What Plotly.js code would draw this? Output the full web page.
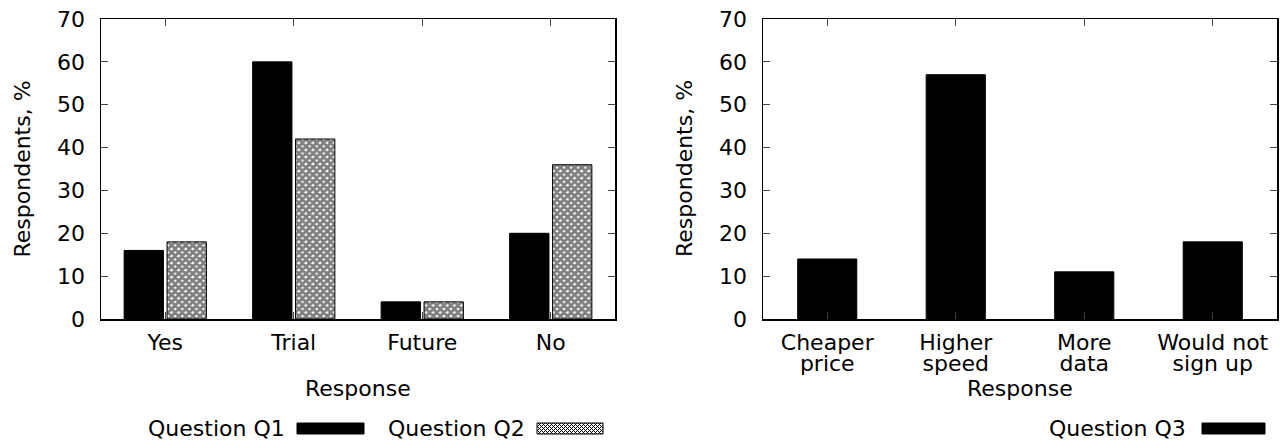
<!DOCTYPE html>
<html>
<head>
<meta charset="utf-8">
<script src="https://cdn.plot.ly/plotly-3.0.1.min.js"></script>
<style>
html,body{margin:0;padding:0;background:#fff;}
#chart{width:1280px;height:443px;}
</style>
</head>
<body>
<div id="chart"></div>
<script>
// ---- data ----
const responses1 = ['Yes', 'Trial', 'Future', 'No'];
const q1Values = [16, 60, 4, 20];
const q2Values = [18, 42, 4, 36];
const responses3 = ['Cheaper<br>price', 'Higher<br>speed', 'More<br>data', 'Would not<br>sign up'];
const q3Values = [14, 57, 11, 18];
const seriesNames = ['Question Q1', 'Question Q2', 'Question Q3'];
const yTitle = 'Respondents, %';
const xTitle = 'Response';

// ---- layout helpers ----
const W = 1280, H = 443;
const px = x => x / W;
const py = y => 1 - y / H;
const FONT = 'DejaVu Sans';
const FS = 22;

const r3Line1 = responses3.map(s => s.split('<br>')[0]);
const r3Line2 = responses3.map(s => s.split('<br>')[1]);
const idx3 = responses3.map((_, i) => i);

const traces = [
  {
    type: 'bar', x: responses1, y: q1Values, name: seriesNames[0],
    xaxis: 'x', yaxis: 'y', showlegend: false,
    marker: {color: 'black', line: {color: 'black', width: 1}}
  },
  {
    type: 'bar', x: responses1, y: q2Values, name: seriesNames[1],
    xaxis: 'x', yaxis: 'y', showlegend: false,
    marker: {color: 'white', line: {color: 'black', width: 1},
      pattern: {shape: 'x', fgcolor: 'black', bgcolor: 'white', size: 5, solidity: 0.8, fillmode: 'overlay'}}
  },
  {
    type: 'bar', x: idx3, y: q3Values, name: seriesNames[2],
    xaxis: 'x2', yaxis: 'y2', showlegend: false, width: 0.46,
    marker: {color: 'black', line: {color: 'black', width: 1}}
  },
  {
    // invisible carrier so the second-line label axis is drawn
    type: 'scatter', mode: 'markers', x: idx3, y: q3Values, name: 'labels2',
    xaxis: 'x3', yaxis: 'y2', showlegend: false, hoverinfo: 'skip',
    marker: {opacity: 0, size: 1}
  }
];

const axisCommon = {
  showline: true, mirror: 'ticks', linecolor: 'black', linewidth: 1.5,
  ticks: 'inside', ticklen: 7, tickcolor: '#444', tickwidth: 1,
  showgrid: false, zeroline: false, fixedrange: true,
  tickfont: {family: FONT, size: FS, color: 'black'}
};

const yDomain = [py(319), py(19)];
const XSTAND = 3, LINE_GAP = 26;

const layout = {
  width: W, height: H,
  margin: {l: 0, r: 0, t: 0, b: 0},
  paper_bgcolor: 'white', plot_bgcolor: 'white',
  font: {family: FONT, size: FS, color: 'black'},
  showlegend: false,
  barmode: 'group', bargap: 0.332, bargroupgap: 0.084,
  xaxis: Object.assign({}, axisCommon, {
    domain: [px(101), px(615)], anchor: 'y', type: 'category',
    range: [-0.5, 3.5], ticklabelstandoff: XSTAND
  }),
  yaxis: Object.assign({}, axisCommon, {
    domain: yDomain, anchor: 'x', range: [0, 70], dtick: 10, tick0: 0,
    ticklabelstandoff: 10
  }),
  xaxis2: Object.assign({}, axisCommon, {
    domain: [px(763), px(1277)], anchor: 'y2', type: 'linear',
    range: [-0.5, 3.5], tickmode: 'array', tickvals: idx3, ticktext: r3Line1,
    ticklabelstandoff: XSTAND
  }),
  xaxis3: {
    overlaying: 'x2', anchor: 'y2', side: 'bottom', type: 'linear', range: [-0.5, 3.5],
    tickmode: 'array', tickvals: idx3, ticktext: r3Line2,
    showline: false, ticks: '', showgrid: false, zeroline: false, fixedrange: true,
    tickfont: {family: FONT, size: FS, color: 'black'}, ticklabelstandoff: XSTAND + LINE_GAP
  },
  yaxis2: Object.assign({}, axisCommon, {
    domain: yDomain, anchor: 'x2', range: [0, 70], dtick: 10, tick0: 0,
    ticklabelstandoff: 10
  }),
  annotations: [],
  shapes: []
};

// axis titles
function addText(text, x, y, opts) {
  layout.annotations.push(Object.assign({
    text: text, xref: 'paper', yref: 'paper', x: px(x), y: py(y),
    showarrow: false, font: {family: FONT, size: FS, color: 'black'},
    xanchor: 'center', yanchor: 'middle'
  }, opts || {}));
}
addText(yTitle, 21.5, 169, {textangle: -90});
addText(yTitle, 684, 169, {textangle: -90});
addText(xTitle, 358, 388);
addText(xTitle, 1020, 388);

// legend (text left of key, gnuplot style)
const legY0 = 423, legY1 = 434;
addText(seriesNames[0], 287, 428, {xanchor: 'right'});
addText(seriesNames[1], 527, 428, {xanchor: 'right'});
addText(seriesNames[2], 1188, 428, {xanchor: 'right'});

function rectShape(x0, x1, fill, lineW) {
  layout.shapes.push({
    type: 'rect', xref: 'paper', yref: 'paper',
    x0: px(x0), x1: px(x1), y0: py(legY1), y1: py(legY0),
    fillcolor: fill, line: {color: 'black', width: lineW}
  });
}
function hatchShape(x0, x1, y0, y1, step) {
  const h = y1 - y0;
  let d = '';
  const seg = (ax, ay, bx, by) => {
    d += 'M' + px(ax).toFixed(6) + ',' + py(ay).toFixed(6) + 'L' + px(bx).toFixed(6) + ',' + py(by).toFixed(6);
  };
  for (let c = x0 - h; c <= x1; c += step) {
    let sx = c, sy = y0, ex = c + h, ey = y1;
    if (sx < x0) { sy += (x0 - sx); sx = x0; }
    if (ex > x1) { ey -= (ex - x1); ex = x1; }
    if (sx < ex) seg(sx, sy, ex, ey);
    let ux = c, uy = y1, vx = c + h, vy = y0;
    if (ux < x0) { uy -= (x0 - ux); ux = x0; }
    if (vx > x1) { vy += (vx - x1); vx = x1; }
    if (ux < vx) seg(ux, uy, vx, vy);
  }
  layout.shapes.push({
    type: 'path', xref: 'paper', yref: 'paper', path: d,
    line: {color: 'black', width: 1}
  });
}
rectShape(297, 364, 'black', 1);
rectShape(537, 603, 'white', 1);
hatchShape(537, 603, legY0, legY1, 4);
rectShape(1202, 1265, 'black', 1);

Plotly.newPlot('chart', traces, layout, {displayModeBar: false, staticPlot: true});
</script>
</body>
</html>
